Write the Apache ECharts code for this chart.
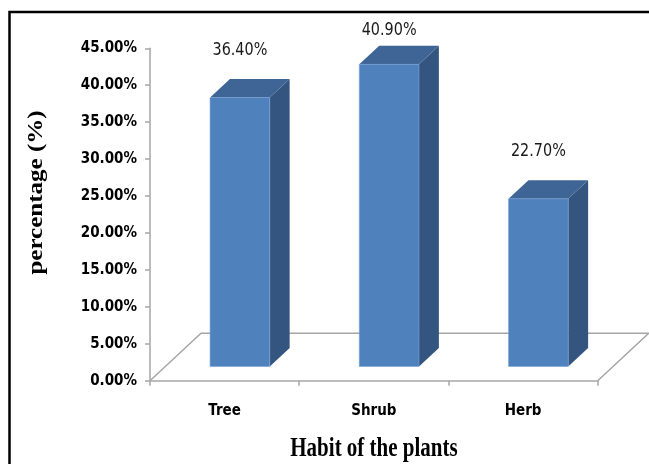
<!DOCTYPE html>
<html>
<head>
<meta charset="utf-8">
<script src="https://cdn.jsdelivr.net/npm/echarts@6/dist/echarts.min.js"></script>
<style>
  html, body { margin: 0; padding: 0; background: #fff; }
  #chart { width: 649px; height: 464px; }
</style>
</head>
<body>
<div id="chart"></div>
<script>
// Plant habit categories and their share (%)
const categories = ['Tree', 'Shrub', 'Herb'];
const percentages = [36.4, 40.9, 22.7];
const yTicks = { min: 0, max: 45, interval: 5 };

const FRONT = '#4F81BD', TOP = '#3E6595', SIDE = '#34557F';
const FLOOR_DX = 51, FLOOR_DY = 47.5;   // depth of the floor in screen space
const BAR_POS = 0.3, BAR_DEPTH = 0.39;  // bar placement / depth as fraction of floor depth
const BAR_WIDTH = 0.4;                  // bar width as fraction of category band

const cond = '"DejaVu Sans Condensed", "Liberation Sans Narrow", sans-serif';
const serif = '"Liberation Serif", "Times New Roman", serif';

const chart = echarts.init(document.getElementById('chart'));

function renderFloor(params, api) {
  const cs = params.coordSys;
  const x0 = cs.x, x1 = cs.x + cs.width, yb = cs.y + cs.height;
  return {
    type: 'polyline',
    shape: { points: [[x0, yb], [x0 + FLOOR_DX, yb - FLOOR_DY], [x1 + FLOOR_DX, yb - FLOOR_DY], [x1, yb]] },
    style: { stroke: '#A6A6A6', lineWidth: 1.5, fill: null },
    silent: true
  };
}

function renderBar(params, api) {
  const cs = params.coordSys;
  const idx = api.value(0);
  const val = api.value(1);
  const base = api.coord([idx, 0]);
  const top = api.coord([idx, val]);
  const band = api.size([1, 0])[0];
  const w = band * BAR_WIDTH;
  const ox = FLOOR_DX * BAR_POS, oy = FLOOR_DY * BAR_POS;
  const dx = FLOOR_DX * BAR_DEPTH, dy = FLOOR_DY * BAR_DEPTH;
  const xl = base[0] - w / 2 + ox, xr = xl + w;
  const yb = base[1] - oy, yt = top[1] - oy;
  const labelY = Math.max(yt - 47.5, cs.y - 18);
  return {
    type: 'group',
    children: [
      { type: 'polygon', shape: { points: [[xr, yb], [xr + dx, yb - dy], [xr + dx, yt - dy], [xr, yt]] },
        style: { fill: SIDE } },
      { type: 'polygon', shape: { points: [[xl, yt], [xl + dx, yt - dy], [xr + dx, yt - dy], [xr, yt]] },
        style: { fill: TOP } },
      { type: 'rect', shape: { x: xl, y: yt, width: w, height: yb - yt },
        style: { fill: FRONT, stroke: 'rgba(120,160,215,0.6)', lineWidth: 1 } },
      { type: 'text', x: (xl + xr) / 2, y: labelY, scaleY: 1.15,
        style: { text: val.toFixed(2) + '%', fill: '#1a1a1a', font: '16px ' + cond,
                 align: 'center', verticalAlign: 'middle' } }
    ]
  };
}

chart.setOption({
  animation: false,
  grid: { left: 150, right: 51.3, top: 48.3, bottom: 83.3, containLabel: false },
  xAxis: {
    type: 'category',
    data: categories,
    boundaryGap: true,
    axisLine: { lineStyle: { color: '#A6A6A6', width: 1.5 } },
    axisTick: { show: true, length: 5, lineStyle: { color: '#A6A6A6', width: 1.5 } },
    axisLabel: { color: '#000', fontWeight: 'bold', fontSize: 15, fontFamily: cond, margin: 23 }
  },
  yAxis: {
    type: 'value',
    min: yTicks.min, max: yTicks.max, interval: yTicks.interval,
    axisLine: { show: true, lineStyle: { color: '#A6A6A6', width: 1.5 } },
    axisTick: { show: true, length: 5, lineStyle: { color: '#A6A6A6', width: 1.5 } },
    splitLine: { show: false },
    axisLabel: { color: '#000', fontWeight: 'bold', fontSize: 15, fontFamily: cond, margin: 13,
                 formatter: v => v.toFixed(2) + '%' }
  },
  graphic: [
    { type: 'rect', shape: { x: 9.5, y: 12, width: 700, height: 500 },
      style: { fill: null, stroke: '#000', lineWidth: 2.5 }, silent: true, z: 100 },
    { type: 'text', x: 37, y: 192.5, rotation: Math.PI / 2, scaleX: 1.25,
      style: { text: 'percentage (%)', font: 'bold 20px ' + serif, fill: '#000',
               align: 'center', verticalAlign: 'middle' } },
    { type: 'text', x: 374, y: 449, scaleY: 1.25,
      style: { text: 'Habit of the plants', font: 'bold 21px ' + serif, fill: '#000',
               align: 'center', verticalAlign: 'middle' } }
  ],
  series: [
    { type: 'custom', renderItem: renderFloor, data: [[0]], silent: true, z: 1 },
    { type: 'custom', renderItem: renderBar, z: 2,
      data: percentages.map((v, i) => [i, v]),
      encode: { x: 0, y: 1 } }
  ]
});
</script>
</body>
</html>
